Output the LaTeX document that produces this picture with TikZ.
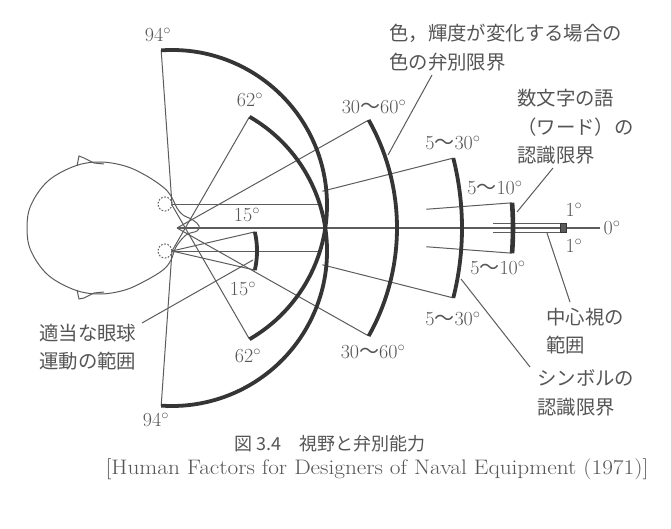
\documentclass[tikz,border=0pt]{standalone}
\usepackage{fontspec}
\newfontfamily\cjk{Noto Sans CJK JP}
\usetikzlibrary{calc}
\definecolor{txtgray}{HTML}{555555}
\definecolor{linegray}{HTML}{5c5c5c}
\definecolor{arcgray}{HTML}{353535}
\begin{document}
\begin{tikzpicture}[x=1pt,y=-1pt,
  thinl/.style={draw=linegray,line width=1pt},
  thickarc/.style={draw=arcgray,line width=3.8pt},
  bararc/.style={draw=arcgray,line width=4.6pt},
  num/.style={text=txtgray,inner sep=0pt,font=\fontsize{20}{20}\selectfont},
  jtxt/.style={text=txtgray,inner sep=0pt,font=\cjk\fontsize{19.4}{28.5}\selectfont,align=left,anchor=west},
  eyec/.style={draw=linegray,line width=1pt,dash pattern=on 1.6pt off 1.6pt},
  headl/.style={draw=linegray,line width=1pt},
]
\useasboundingbox (0,0) rectangle (671,529);
\fill[white] (0,0) rectangle (671,529);

% head
\draw[headl] plot[smooth cycle, tension=0.6] coordinates {(177,208) (171,196) (163,187) (145,175) (125,166) (100,162) (75,166) (48,181) (31,205) (27,228) (31,251) (48,275) (75,290) (100,294) (125,290) (145,281) (163,270) (171,260) (176,247) (186,235) (197,231) (199,226) (193,220) (183,215)};
\draw[headl] (77,166) -- (79,156) -- (84,158) -- (94,163) -- (104,164);
\draw[headl] (77,290) -- (79,299) -- (84,298) -- (94,293) -- (104,292);
\draw[eyec] (165,204) circle[radius=7];
\draw[eyec] (165,251) circle[radius=7];

% key points
\coordinate (E1) at (172,205);
\coordinate (E2) at (172,251);
\coordinate (N) at (177,228);
\coordinate (A94t) at ($(E1)+(-94:155)$);
\coordinate (A62b) at ($(E1)+(60:155)$);
\coordinate (B62t) at ($(E2)+(-60:155)$);
\coordinate (B94b) at ($(E2)+(94:155)$);
\coordinate (C1) at ($(N)+(-29.4:220)$);
\coordinate (C2) at ($(N)+(29.4:220)$);
\coordinate (S1) at ($(N)+(-14.2:150)$);
\coordinate (S2) at ($(N)+(14.2:150)$);
\coordinate (D1) at ($(N)+(-14.2:285)$);
\coordinate (D2) at ($(N)+(14.2:285)$);
\coordinate (F1) at ($(N)+(-4.3:336)$);
\coordinate (F2) at ($(N)+(4.3:336)$);
\coordinate (G1) at ($(N)+(-4.3:250)$);
\coordinate (G2) at ($(N)+(4.3:250)$);
\coordinate (K1) at ($(E2)+(-13:85)$);
\coordinate (K2) at ($(E2)+(13:85)$);
\coordinate (H1) at (320,205);
\coordinate (H2) at (320,251);
\coordinate (Z) at (600,228);
\coordinate (P1) at (493,223.3);
\coordinate (P2) at (561,223.3);
\coordinate (Q1) at (493,232.7);
\coordinate (Q2) at (561,232.7);

% thin lines
\draw[thinl] (E1) -- (A94t);
\draw[thinl] (E1) -- (A62b);
\draw[thinl] (E2) -- (B62t);
\draw[thinl] (E2) -- (B94b);
\draw[thinl] (E1) -- (H1);
\draw[thinl] (E2) -- (H2);
\draw[thinl] (N) -- (C1);
\draw[thinl] (N) -- (C2);
\draw[thinl] (S1) -- (D1);
\draw[thinl] (S2) -- (D2);
\draw[thinl] (G1) -- (F1);
\draw[thinl] (G2) -- (F2);
\draw[thinl] (E2) -- (K1);
\draw[thinl] (E2) -- (K2);
\draw[thinl] (N) -- (Z);
\draw[thinl] (P1) -- (P2);
\draw[thinl] (Q1) -- (Q2);

% thick arcs
\draw[thickarc] (A94t) arc[start angle=-94,end angle=60,radius=155];
\draw[thickarc] (B62t) arc[start angle=-60,end angle=94,radius=155];
\draw[thickarc] (C1) arc[start angle=-29.4,end angle=29.4,radius=220];
\draw[thickarc] (D1) arc[start angle=-14.2,end angle=14.2,radius=285];
\draw[bararc] (F1) arc[start angle=-4.3,end angle=4.3,radius=336];
\draw[thickarc] (K1) arc[start angle=-13,end angle=13,radius=85];
\node[draw=arcgray,fill=linegray,line width=1pt,minimum width=6pt,minimum height=9.5pt,inner sep=0pt] (cbox) at (563.5,228) {};

% degree labels
\node[num] (t94a) at (158,35) {94$^\circ$};
\node[num] (t62a) at (250,100) {62$^\circ$};
\node[num] (t15a) at (247,215) {15$^\circ$};
\node[num] (t15b) at (243,289) {15$^\circ$};
\node[num] (t62b) at (248,356) {62$^\circ$};
\node[num] (t94b) at (156,420) {94$^\circ$};
\node[num] (t3060a) at (374,107) {30{\cjk ～}60$^\circ$};
\node[num] (t530a) at (453,143) {5{\cjk ～}30$^\circ$};
\node[num] (t510a) at (495,188) {5{\cjk ～}10$^\circ$};
\node[num] (t510b) at (498,268) {5{\cjk ～}10$^\circ$};
\node[num] (t530b) at (453,319) {5{\cjk ～}30$^\circ$};
\node[num] (t3060b) at (373,352) {30{\cjk ～}60$^\circ$};
\node[num] (t1a) at (574,210) {1$^\circ$};
\node[num] (t1b) at (574,246) {1$^\circ$};
\node[num] (t0) at (612,228) {0$^\circ$};

% text labels
\node[jtxt] (lab1) at (389,47.5) {色，輝度が変化する場合の\\色の弁別限界};
\node[jtxt] (lab2) at (517,127) {数文字の語\\（ワード）の\\認識限界};
\node[jtxt] (lab3) at (546,331) {中心視の\\範囲};
\node[jtxt] (lab4) at (537,393) {シンボルの\\認識限界};
\node[jtxt] (lab5) at (39,347) {適当な眼球\\運動の範囲};

% leaders
\coordinate (l1a) at (432,75);  \coordinate (l1b) at (388,155);
\coordinate (l2a) at (553,168); \coordinate (l2b) at (517,212);
\coordinate (l3a) at (570,302); \coordinate (l3b) at (547,233);
\coordinate (l4a) at (530,367); \coordinate (l4b) at (461,279);
\coordinate (l5a) at (142,323); \coordinate (l5b) at (253,260);
\draw[thinl] (l1a) -- (l1b);
\draw[thinl] (l2a) -- (l2b);
\draw[thinl] (l3a) -- (l3b);
\draw[thinl] (l4a) -- (l4b);
\draw[thinl] (l5a) -- (l5b);

% caption
\node[text=txtgray,inner sep=0pt,font=\cjk\fontsize{18}{18}\selectfont] (cap1) at (330,444) {図 3.4　視野と弁別能力};
\node[text=txtgray,inner sep=0pt,font=\fontsize{21}{21}\selectfont] (cap2) at (377,469) {\scalebox{1.108}[1]{[Human Factors for Designers of Naval Equipment (1971)]}};
\end{tikzpicture}
\end{document}
